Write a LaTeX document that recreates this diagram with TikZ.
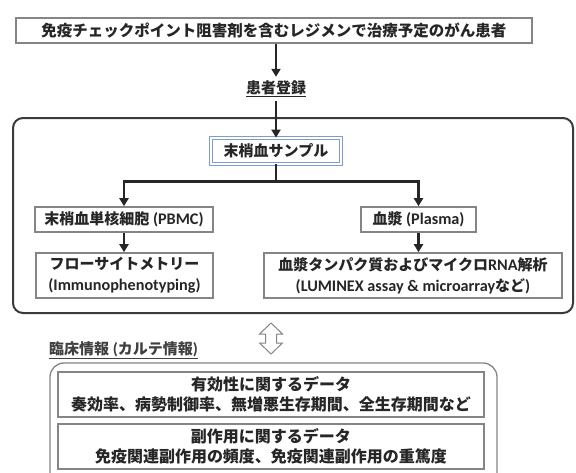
\documentclass[tikz,border=0pt]{standalone}
\usepackage{fontspec}
\setmainfont{Carlito}[Scale=1.08]
\newfontfamily\jp{Noto Sans CJK JP}
\usetikzlibrary{arrows.meta,calc}
\definecolor{txt}{HTML}{262626}
\definecolor{boxline}{HTML}{858585}
\definecolor{panelline}{HTML}{3A3A3A}
\definecolor{sampleblue}{HTML}{7F9CCF}
\begin{document}
\begin{tikzpicture}[x=1pt,y=-1pt,
  every node/.style={text=txt, inner sep=0pt},
  fnt/.style={font=\bfseries\fontsize{15}{21}\selectfont},
  gbox/.style={draw=boxline, line width=1.6pt, fill=white, fnt, align=center},
  panelbox/.style={draw=panelline, line width=2pt, rounded corners=10pt},
  clinbox/.style={draw=boxline, line width=1.3pt, rounded corners=14pt},
  conn/.style={line width=2.4pt, draw=black!85, -{Triangle[width=9pt,length=8pt]}},
  plainconn/.style={line width=2.4pt, draw=black!85},
  hollowarrow/.style={draw=boxline, line width=1pt, fill=white, line join=miter}
]
\clip (0,0) rectangle (576,472);
\fill[white] (0,0) rectangle (576,472);

% main panel
\node[panelbox, minimum width=560pt, minimum height=195pt] (panel) at (293,215.5) {};

% top box
\node[gbox, minimum width=516pt, minimum height=25pt, font=\bfseries\fontsize{15.5}{18}\selectfont] (top) at (274,30.5)
  {\jp 免疫チェックポイント阻害剤を含むレジメンで治療予定のがん患者};

% registration
\node[fnt, minimum height=24pt] (reg) at (276,89) {\underline{\jp 患者登録}};

% sample box
\node[draw=sampleblue, line width=0.8pt, double=white, double distance=2.2pt, fill=white, fnt,
      minimum width=130pt, minimum height=26pt] (sample) at (276,151) {\jp 末梢血サンプル};

% second level
\node[gbox, minimum width=178pt, minimum height=25pt] (pbmc) at (124,219.5) {{\jp 末梢血単核細胞} (PBMC)};
\node[gbox, minimum width=115pt, minimum height=25pt] (plasma) at (418.5,219.5) {{\jp 血漿} (Plasma)};

% third level
\node[gbox, minimum width=177pt, minimum height=45pt] (flow) at (124.5,275.5)
  {{\jp フローサイトメトリー}\\(Immunophenotyping)};
\node[gbox, minimum width=298pt, minimum height=45pt] (prot) at (413,275.5)
  {{\jp 血漿タンパク質およびマイクロ}RNA{\jp 解析}\\(LUMINEX assay \& microarray{\jp など})};

% connectors
\draw[conn] (top.south -| reg.north) -- (reg.north);
\draw[conn] (reg.south) -- (sample.north);
\coordinate (split) at ($(sample.south)+(0,17)$);
\draw[plainconn] (sample.south) -- (split);
\draw[conn] (split) -| (pbmc.north);
\draw[conn] (split) -| (plasma.north);
\draw[conn] (pbmc.south) -- (pbmc.south |- flow.north);
\draw[conn] (plasma.south) -- (plasma.south |- prot.north);

% hollow double arrow
\coordinate (link) at (271,338.5);
\draw[hollowarrow] ($(link)+(0,-15.5)$) -- ++(11.5,11) -- ++(-6,0) -- ++(0,9) -- ++(6,0)
  -- ++(-11.5,11) -- ++(-11.5,-11) -- ++(6,0) -- ++(0,-9) -- ++(-6,0) -- cycle;

% clinical info
\node[anchor=west, font=\bfseries\fontsize{15}{18}\selectfont, text=black!75] (clinlabel) at (49,350)
  {\underline{{\jp 臨床情報} ({\jp カルテ情報})}};
\node[clinbox, minimum width=447pt, minimum height=124pt] (clin) at (273.5,425) {};
\node[gbox, minimum width=426pt, minimum height=45pt, font=\bfseries\fontsize{16}{19.5}\selectfont] (eff) at (271,394.5)
  {{\jp 有効性に関するデータ}\\{\jp 奏効率、病勢制御率、無増悪生存期間、全生存期間など}};
\node[gbox, minimum width=426pt, minimum height=45pt, font=\bfseries\fontsize{16}{19.5}\selectfont] (side) at (271,446.5)
  {{\jp 副作用に関するデータ}\\{\jp 免疫関連副作用の頻度、免疫関連副作用の重篤度}};
\end{tikzpicture}
\end{document}
